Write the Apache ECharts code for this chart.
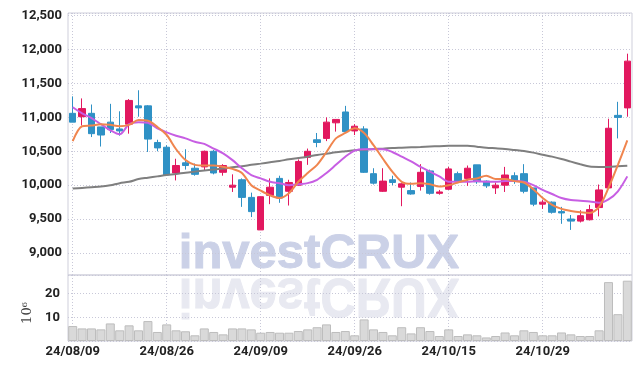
<!DOCTYPE html>
<html><head><meta charset="utf-8">
<script src="https://cdn.jsdelivr.net/npm/echarts@6/dist/echarts.min.js"></script>
<style>html,body{margin:0;padding:0;background:#fff}#c{width:642px;height:369px}</style>
</head><body><div id="c"></div>
<script>
const dates = ['24/08/09','24/08/12','24/08/13','24/08/14','24/08/16','24/08/19','24/08/20','24/08/21','24/08/22','24/08/23',
'24/08/26','24/08/27','24/08/28','24/08/29','24/08/30','24/09/02','24/09/03','24/09/04','24/09/05','24/09/06',
'24/09/09','24/09/10','24/09/11','24/09/12','24/09/13','24/09/19','24/09/20','24/09/23','24/09/24','24/09/25',
'24/09/26','24/09/27','24/09/30','24/10/02','24/10/04','24/10/07','24/10/08','24/10/10','24/10/11','24/10/14',
'24/10/15','24/10/16','24/10/17','24/10/18','24/10/21','24/10/22','24/10/23','24/10/24','24/10/25','24/10/28',
'24/10/29','24/10/30','24/10/31','24/11/01','24/11/04','24/11/05','24/11/06','24/11/07','24/11/08','24/11/11'];
const opens = [11060,11010,11060,10860,10930,10830,10900,11170,11170,10630,
10560,10180,10330,10250,10270,10500,10190,9970,10080,9820,
9340,9850,10100,9910,10000,10410,10670,10690,10920,11080,
10800,10830,10170,9910,10080,9970,9920,9980,10210,9880,
9940,10170,10100,10300,10060,9960,10000,10140,10170,9960,
9720,9750,9610,9500,9470,9490,9670,9960,11030,11140];
const closes = [10930,11130,10760,10740,10820,10800,11250,11140,10680,10550,
10150,10290,10290,10160,10500,10180,10290,10000,9820,9610,
9830,9970,9810,10040,10350,10500,10630,10930,10970,10790,
10870,10190,10030,10060,10040,10020,9870,10190,9880,9900,
10240,10050,10250,10050,9990,10000,10150,10060,9910,9720,
9750,9600,9590,9470,9550,9640,9930,10840,11000,11830];
const lows = [10930,10880,10710,10570,10770,10730,10760,11010,10490,10500,
10150,10070,10230,10140,10220,10160,10140,9900,9680,9530,
9340,9720,9740,9700,9990,10300,10560,10650,10790,10790,
10740,10180,10010,9900,10000,9690,9860,9920,9860,9860,
9930,10030,9990,10020,9960,9870,9900,10020,9880,9690,
9650,9580,9430,9340,9450,9480,9540,9960,10690,11010];
const highs = [11310,11280,11190,10860,11200,11090,11270,11400,11180,10670,
10590,10390,10530,10320,10510,10520,10310,10160,10100,9890,
9830,10100,10140,10080,10380,10540,10770,11000,10970,11170,
10900,10870,10250,10250,10140,10030,10040,10310,10230,9930,
10270,10200,10290,10300,10070,10040,10270,10190,10310,9960,
9780,9760,9680,9560,9630,9710,10010,10980,11230,11940];
const ma5 = [10650,10870,10880,10900,10890,10870,10890,10960,10950,10860,
10740,10530,10370,10300,10290,10290,10270,10240,10180,10000,
9920,9850,9810,9880,10050,10180,10300,10490,10690,10770,
10840,10770,10590,10390,10200,10050,10020,10030,10015,9980,
10000,10040,10080,10100,10140,10090,10090,10060,10040,9940,
9810,9710,9650,9620,9600,9590,9680,9960,10300,10660];
const ma10 = [11150,11060,10990,10900,10810,10750,10900,10930,10920,10840,
10780,10730,10690,10640,10610,10540,10470,10370,10250,10150,
10100,10050,10030,10000,10015,10030,10080,10180,10300,10420,
10510,10530,10530,10530,10490,10420,10350,10270,10200,10130,
10050,10050,10050,10060,10050,10050,10060,10060,10050,10000,
9930,9870,9810,9780,9770,9760,9740,9790,9910,10130];
const maLong = [9950,9960,9970,9980,10000,10030,10050,10090,10110,10130,
10150,10165,10185,10200,10215,10230,10245,10265,10280,10300,
10318,10338,10357,10382,10401,10421,10446,10465,10485,10500,
10515,10524,10534,10539,10548,10553,10558,10563,10570,10575,
10580,10583,10583,10568,10553,10544,10534,10519,10504,10480,
10450,10421,10387,10347,10309,10274,10269,10269,10279,10288];
const volumes = [6.3,5.3,5.3,4.9,7.4,4.5,6.6,4.5,8.4,3.8,
7.0,4.5,4.1,2.4,5.3,3.8,2.8,5.3,5.3,4.9,
3.5,3.8,3.5,3.5,4.2,4.9,5.8,7.0,3.8,4.2,
2.4,9.1,4.9,3.8,2.4,5.8,3.2,5.8,4.2,2.1,
4.9,2.1,2.8,2.4,1.5,2.1,3.6,2.4,4.5,3.8,
2.4,2.4,3.6,2.8,2.1,2.1,4.5,24.8,11.3,25.4];
const volumeUnitLabel = '10\u2076';
const watermarkText = 'investCRUX';

const UP = '#e2185f', DOWN = '#2f91c5';
const FONT = 'Roboto';
const gridLine = {color: '#c8c8d8', type: [1, 2], width: 1};
const labelStyle = {color: '#222', fontFamily: FONT, fontWeight: 'bold', fontSize: 13};

const candleData = dates.map((d, i) => [opens[i], closes[i], lows[i], highs[i]]);

const chart = echarts.init(document.getElementById('c'));
chart.setOption({
  animation: false,
  backgroundColor: '#fff',
  grid: [
    {left: 68, right: 10, top: 13, height: 262, show: true, borderColor: '#cfcfdb', borderWidth: 1},
    {left: 68, right: 10, top: 275, height: 66, show: true, borderColor: '#cfcfdb', borderWidth: 1}
  ],
  graphic: [
    {type: 'text', z: -1, x: 319, y: 254, style: {text: watermarkText, fontFamily: 'Liberation Sans', fontWeight: 'bold', fontSize: 49, fill: '#cbd1e7', align: 'center', verticalAlign: 'middle', stroke: '#cbd1e7', lineWidth: 1}},
    {type: 'text', z: -1, x: 319, y: 294.5, scaleY: -1.12, style: {text: watermarkText, fontFamily: 'Liberation Sans', fontWeight: 'bold', fontSize: 49, fill: '#e8e9f1', align: 'center', verticalAlign: 'middle', stroke: '#e8e9f1', lineWidth: 1}}
  ],
  xAxis: [
    {type: 'category', gridIndex: 0, data: dates, boundaryGap: true,
     axisLine: {show: false}, axisTick: {show: false}, axisLabel: {show: false, interval: 9},
     splitLine: {show: true, interval: 9, alignWithLabel: true, lineStyle: gridLine}},
    {type: 'category', gridIndex: 1, data: dates, boundaryGap: true,
     axisLine: {show: false}, axisTick: {show: false},
     axisLabel: Object.assign({interval: 9, margin: 4}, labelStyle),
     splitLine: {show: true, interval: 9, alignWithLabel: true, lineStyle: gridLine}}
  ],
  yAxis: [
    {type: 'value', gridIndex: 0, min: 8675, max: 12540, splitNumber: 7,
     axisLine: {show: false}, axisTick: {show: false},
     axisLabel: Object.assign({showMinLabel: false, showMaxLabel: false, margin: 6,
       formatter: v => v.toLocaleString('en-US')}, labelStyle),
     splitLine: {lineStyle: gridLine}},
    {type: 'value', gridIndex: 1, min: 0, max: 27.8, interval: 10,
     name: volumeUnitLabel, nameLocation: 'middle', nameGap: 29, nameRotate: 90,
     nameTextStyle: {color: '#444', fontFamily: 'DejaVu Serif', fontSize: 13, padding: [0, 10, 0, 0]},
     axisLine: {show: false}, axisTick: {show: false},
     axisLabel: Object.assign({showMinLabel: false, showMaxLabel: false, margin: 8}, labelStyle),
     splitLine: {lineStyle: gridLine}}
  ],
  series: [
    {type: 'candlestick', xAxisIndex: 0, yAxisIndex: 0, data: candleData, barWidth: '74%',
     itemStyle: {color: UP, color0: DOWN, borderColor: UP, borderColor0: DOWN, borderWidth: 1}},
    {type: 'line', xAxisIndex: 0, yAxisIndex: 0, data: maLong, smooth: 0.3, showSymbol: false,
     lineStyle: {color: '#7f7f7f', width: 2}},
    {type: 'line', xAxisIndex: 0, yAxisIndex: 0, data: ma10, smooth: 0.3, showSymbol: false,
     lineStyle: {color: '#c75ee3', width: 2}},
    {type: 'line', xAxisIndex: 0, yAxisIndex: 0, data: ma5, smooth: 0.3, showSymbol: false,
     lineStyle: {color: '#f0854e', width: 2}},
    {type: 'bar', xAxisIndex: 1, yAxisIndex: 1, data: volumes, barCategoryGap: '4%',
     itemStyle: {color: '#d9d9d9', borderColor: '#bdbdbd', borderWidth: 1}}
  ]
});
</script>
</body></html>
